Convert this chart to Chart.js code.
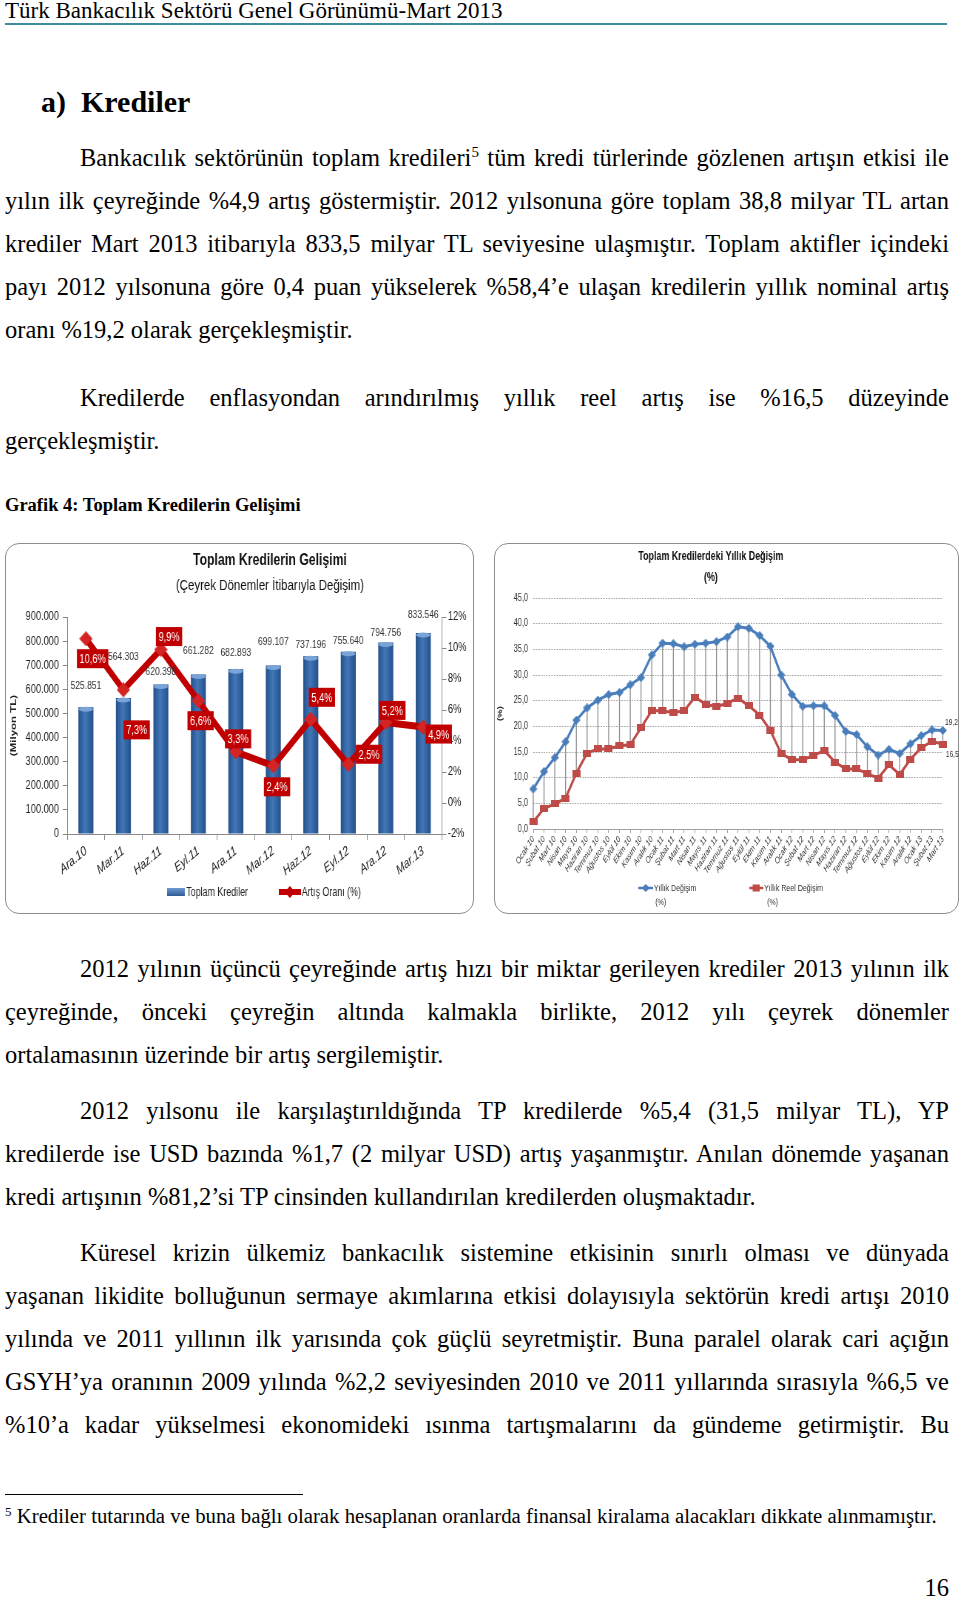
<!DOCTYPE html>
<html>
<head>
<meta charset="utf-8">
<script src="https://cdn.jsdelivr.net/npm/chart.js@4"></script>
<style>
  body{margin:0;background:#fff;width:960px;height:1599px;position:relative;overflow:hidden;
       font-family:"Liberation Serif","Times New Roman",serif;color:#000}
  .ln{position:absolute;white-space:nowrap;font-size:24.5px;line-height:30px;height:30px}
  .ln sup{font-size:15px;line-height:0;vertical-align:9px}
  .hdr{position:absolute;left:5px;top:-4px;font-size:23px;line-height:30px;white-space:nowrap}
  .rule{position:absolute;left:5px;top:23px;width:942px;height:2px;background:#3f8c9c}
  .box{position:absolute;border:1px solid #8e8e8e;border-radius:14px;box-sizing:border-box}
  .cv{position:absolute;transform:scaleX(0.74);transform-origin:0 0}
</style>
</head>
<body>
<div class="hdr">Türk Bankacılık Sektörü Genel Görünümü-Mart 2013</div>
<div class="rule"></div>
<div class="ln" style="left:41px;top:84px;font-size:30px;font-weight:bold;line-height:36px;height:36px">a)&nbsp; Krediler</div>

<div class="ln j" data-x="80" data-y="160"><span>Bankacılık sektörünün toplam kredileri<sup>5</sup> tüm kredi türlerinde gözlenen artışın etkisi ile</span></div>
<div class="ln j" data-x="5" data-y="203"><span>yılın ilk çeyreğinde %4,9 artış göstermiştir. 2012 yılsonuna göre toplam 38,8 milyar TL artan</span></div>
<div class="ln j" data-x="5" data-y="246"><span>krediler Mart 2013 itibarıyla 833,5 milyar TL seviyesine ulaşmıştır. Toplam aktifler içindeki</span></div>
<div class="ln j" data-x="5" data-y="289"><span>payı 2012 yılsonuna göre 0,4 puan yükselerek %58,4’e ulaşan kredilerin yıllık nominal artış</span></div>
<div class="ln" data-x="5" data-y="332"><span>oranı %19,2 olarak gerçekleşmiştir.</span></div>
<div class="ln j" data-x="80" data-y="400"><span>Kredilerde enflasyondan arındırılmış yıllık reel artış ise %16,5 düzeyinde</span></div>
<div class="ln" data-x="5" data-y="443"><span>gerçekleşmiştir.</span></div>
<div class="ln" style="left:5px;top:490px;font-size:18.5px;font-weight:bold">Grafik 4: Toplam Kredilerin Gelişimi</div>

<div class="box" style="left:5px;top:543px;width:469px;height:371px"></div>
<div class="cv" style="left:5px;top:543px;width:634px;height:371px"><canvas id="leftChart"></canvas></div>
<div class="box" style="left:494px;top:543px;width:465px;height:371px"></div>
<div class="cv" style="left:494px;top:543px;width:628px;height:371px"><canvas id="rightChart"></canvas></div>

<div class="ln j" data-x="80" data-y="971"><span>2012 yılının üçüncü çeyreğinde artış hızı bir miktar gerileyen krediler 2013 yılının ilk</span></div>
<div class="ln j" data-x="5" data-y="1014"><span>çeyreğinde, önceki çeyreğin altında kalmakla birlikte, 2012 yılı çeyrek dönemler</span></div>
<div class="ln" data-x="5" data-y="1057"><span>ortalamasının üzerinde bir artış sergilemiştir.</span></div>
<div class="ln j" data-x="80" data-y="1113"><span>2012 yılsonu ile karşılaştırıldığında TP kredilerde %5,4 (31,5 milyar TL), YP</span></div>
<div class="ln j" data-x="5" data-y="1156"><span>kredilerde ise USD bazında %1,7 (2 milyar USD) artış yaşanmıştır. Anılan dönemde yaşanan</span></div>
<div class="ln" data-x="5" data-y="1199"><span>kredi artışının %81,2’si TP cinsinden kullandırılan kredilerden oluşmaktadır.</span></div>
<div class="ln j" data-x="80" data-y="1255"><span>Küresel krizin ülkemiz bankacılık sistemine etkisinin sınırlı olması ve dünyada</span></div>
<div class="ln j" data-x="5" data-y="1298"><span>yaşanan likidite bolluğunun sermaye akımlarına etkisi dolayısıyla sektörün kredi artışı 2010</span></div>
<div class="ln j" data-x="5" data-y="1341"><span>yılında ve 2011 yıllının ilk yarısında çok güçlü seyretmiştir. Buna paralel olarak cari açığın</span></div>
<div class="ln j" data-x="5" data-y="1384"><span>GSYH’ya oranının 2009 yılında %2,2 seviyesinden 2010 ve 2011 yıllarında sırasıyla %6,5 ve</span></div>
<div class="ln j" data-x="5" data-y="1427"><span>%10’a kadar yükselmesi ekonomideki ısınma tartışmalarını da gündeme getirmiştir. Bu</span></div>

<div style="position:absolute;left:5px;top:1494px;width:298px;height:1px;background:#000"></div>
<div class="ln" style="left:5px;top:1503px;font-size:20.8px;line-height:26px"><sup style="font-size:13px;vertical-align:7px">5</sup> Krediler tutarında ve buna bağlı olarak hesaplanan oranlarda finansal kiralama alacakları dikkate alınmamıştır.</div>
<div class="ln" style="right:11px;top:1573px">16</div>

<script>
// ---------- data ----------
const quarters = ["Ara.10","Mar.11","Haz.11","Eyl.11","Ara.11","Mar.12","Haz.12","Eyl.12","Ara.12","Mar.13"];
const totalLoans = [525851, 564303, 620398, 661282, 682893, 699107, 737196, 755640, 794756, 833546];
const growthRate = [10.6, 7.3, 9.9, 6.6, 3.3, 2.4, 5.4, 2.5, 5.2, 4.9];
const loanTicks = [0, 100000, 200000, 300000, 400000, 500000, 600000, 700000, 800000, 900000];

const months = ["Ocak 10","Şubat 10","Mart 10","Nisan 10","Mayıs 10","Haziran 10","Temmuz 10","Ağustos 10","Eylül 10","Ekim 10","Kasım 10","Aralık 10",
  "Ocak 11","Şubat 11","Mart 11","Nisan 11","Mayıs 11","Haziran 11","Temmuz 11","Ağustos 11","Eylül 11","Ekim 11","Kasım 11","Aralık 11",
  "Ocak 12","Şubat 12","Mart 12","Nisan 12","Mayıs 12","Haziran 12","Temmuz 12","Ağustos 12","Eylül 12","Ekim 12","Kasım 12","Aralık 12",
  "Ocak 13","Şubat 13","Mart 13"];
const nominalChange = [7.8, 11.2, 13.9, 17.0, 21.2, 23.6, 25.1, 26.2, 26.6, 28.1, 29.5, 33.9,
  36.2, 36.1, 35.5, 36.0, 36.2, 36.5, 37.4, 39.4, 39.1, 37.7, 35.6, 30.0,
  26.2, 23.9, 24.0, 24.0, 22.1, 19.0, 18.4, 16.0, 14.4, 15.5, 14.7, 16.6,
  18.2, 19.3, 19.2];
const realChange = [1.4, 4.0, 4.9, 6.0, 10.9, 14.8, 15.6, 15.6, 16.2, 16.4, 19.7, 23.1,
  23.0, 22.7, 23.0, 25.7, 24.3, 23.8, 24.5, 25.5, 24.0, 22.2, 19.2, 14.7,
  13.5, 13.5, 14.3, 15.3, 13.0, 11.7, 11.7, 10.8, 9.9, 12.5, 10.6, 13.6,
  15.8, 17.1, 16.5];

// label placement (canvas px, before the horizontal squeeze)
const loanLabelLift = [21, 41, 13, 24, 17, 24, 11, 11, 10, 18];
const rateLabelShift = [[9,20],[18,40],[11,-13],[3,20],[3,-13],[5,21],[15,-22],[28,-10],[9,-12],[21,7]];

const SQ = 0.74; // the charts are drawn wider and squeezed like the original picture

// ---------- page text ----------
document.querySelectorAll(".ln[data-y]").forEach(el=>{
  el.style.left = el.dataset.x + "px";
  el.style.top = (el.dataset.y - 17.5) + "px";
  if(el.classList.contains("j")){
    const span = el.firstElementChild;
    const target = 949 - Number(el.dataset.x);
    const nat = span.getBoundingClientRect().width;
    const n = (span.textContent.match(/ /g) || []).length;
    if(n) span.style.wordSpacing = ((target - nat) / n) + "px";
  }
});

const SANS = '"Liberation Sans",Arial,sans-serif';
Chart.defaults.font.family = SANS;
Chart.defaults.color = "#222";
Chart.defaults.animation = false;

function dots(v){ return v === 0 ? "0" : String(v).replace(/\B(?=(\d{3})+(?!\d))/g, "."); }
function comma(v){ return String(v).replace(".", ","); }

// point marker drawn wider so it looks right after the squeeze
function marker(kind, w, h, color){
  const c = document.createElement("canvas");
  c.width = Math.ceil(w / SQ); c.height = h;
  const x = c.getContext("2d");
  x.fillStyle = color;
  if(kind === "diamond"){
    x.beginPath(); x.moveTo(c.width/2, 0); x.lineTo(c.width, h/2); x.lineTo(c.width/2, h); x.lineTo(0, h/2); x.closePath(); x.fill();
  } else {
    x.fillRect(0, 0, c.width, h);
  }
  return c;
}

// ---------- left chart ----------
const leftDecor = {
  id: "leftDecor",
  afterDatasetDraw(chart, args){
    if(args.index !== 0) return;
    const ctx = chart.ctx;
    ctx.save();
    args.meta.data.forEach(bar=>{
      ctx.fillStyle = "#7aa3d8";
      ctx.beginPath();
      ctx.ellipse(bar.x, bar.y + 2, bar.width/2 - 0.5, 2.5, 0, 0, Math.PI*2);
      ctx.fill();
    });
    ctx.restore();
  },
  afterDatasetsDraw(chart){
    const ctx = chart.ctx;
    ctx.save();
    ctx.font = "11.5px " + SANS;
    ctx.fillStyle = "#333";
    ctx.textAlign = "center";
    ctx.textBaseline = "middle";
    chart.getDatasetMeta(0).data.forEach((bar,i)=>{
      ctx.fillText(dots(totalLoans[i]), bar.x, bar.y - loanLabelLift[i]);
    });
    ctx.font = "12.5px " + SANS;
    chart.getDatasetMeta(1).data.forEach((pt,i)=>{
      const txt = comma(growthRate[i].toFixed(1)) + "%";
      const w = ctx.measureText(txt).width + 7, h = 19;
      const cx = pt.x + rateLabelShift[i][0], cy = pt.y + rateLabelShift[i][1];
      ctx.fillStyle = "#c00000";
      ctx.fillRect(cx - w/2, cy - h/2, w, h);
      ctx.fillStyle = "#fff";
      ctx.fillText(txt, cx, cy + 1);
    });
    ctx.restore();
  },
  afterDraw(chart){
    const ctx = chart.ctx;
    ctx.save();
    ctx.fillStyle = "#111";
    ctx.textAlign = "center";
    ctx.textBaseline = "middle";
    ctx.font = "bold 16.5px " + SANS;
    ctx.fillText("Toplam Kredilerin Gelişimi", 358, 17);
    ctx.font = "15.5px " + SANS;
    ctx.fillText("(Çeyrek Dönemler İtibarıyla Değişim)", 358, 43);
    // legend
    const g = ctx.createLinearGradient(0, 345, 0, 353);
    g.addColorStop(0, "#6f98d0"); g.addColorStop(1, "#2d5c99");
    ctx.fillStyle = g;
    ctx.fillRect(219, 345, 24, 8);
    ctx.fillStyle = "#c00000";
    ctx.fillRect(370, 346, 30, 6);
    ctx.beginPath(); ctx.moveTo(385, 343); ctx.lineTo(392, 349); ctx.lineTo(385, 355); ctx.lineTo(378, 349); ctx.closePath(); ctx.fill();
    ctx.fillStyle = "#222";
    ctx.textAlign = "left";
    ctx.font = "12px " + SANS;
    ctx.fillText("Toplam Krediler", 245, 350);
    ctx.fillText("Artış Oranı (%)", 401, 350);
    ctx.restore();
  }
};

new Chart(document.getElementById("leftChart"), {
  data: {
    labels: quarters,
    datasets: [
      { type: "bar", label: "Toplam Krediler", data: totalLoans, yAxisID: "y", order: 2,
        categoryPercentage: 1, barPercentage: 0.4,
        backgroundColor(c){
          const ch = c.chart, a = ch.chartArea;
          if(!a) return "#2f5f9f";
          const x = ch.scales.x.getPixelForValue(c.dataIndex);
          const w = (a.right - a.left) / quarters.length * 0.4;
          const g = ch.ctx.createLinearGradient(x - w/2, 0, x + w/2, 0);
          g.addColorStop(0, "#23508a"); g.addColorStop(0.45, "#4377b8"); g.addColorStop(1, "#23508a");
          return g;
        } },
      { type: "line", label: "Artış Oranı (%)", data: growthRate, yAxisID: "y1", order: 1,
        borderColor: "#c00000", borderWidth: 7, tension: 0,
        pointStyle: marker("diamond", 13, 15, "#d42424"), pointRadius: 7 }
    ]
  },
  options: {
    responsive: true, maintainAspectRatio: false,
    layout: { padding: { top: 74, left: 5, right: 0, bottom: 0 } },
    plugins: { legend: { display: false }, tooltip: { enabled: false } },
    scales: {
      x: {
        grid: { drawOnChartArea: false, offset: true, tickLength: 6, color: "#8a8a8a" },
        border: { color: "#8a8a8a" },
        ticks: { minRotation: 32, maxRotation: 32, font: { size: 13.5, style: "italic" }, color: "#222", padding: 3 },
        afterFit(s){ s.height = 80; }
      },
      y: {
        min: 0, max: 900000,
        afterBuildTicks(s){ s.ticks = loanTicks.map(v=>({ value: v })); },
        ticks: { callback: v => dots(v), font: { size: 12.5 }, color: "#222", padding: 5 },
        grid: { drawOnChartArea: false, tickLength: 6, color: "#8a8a8a" },
        border: { color: "#8a8a8a" },
        title: { display: true, text: "(Milyon TL)", font: { size: 11.5, weight: "bold" }, color: "#222", padding: { top: 0, bottom: 0 } },
        afterFit(s){ s.width = 79; }
      },
      y1: {
        position: "right", min: -2, max: 12,
        ticks: { stepSize: 2, callback: v => v + "%", font: { size: 12.5 }, color: "#222", padding: 2 },
        grid: { drawOnChartArea: false, tickLength: 6, color: "#8a8a8a" },
        border: { color: "#8a8a8a" },
        afterFit(s){ s.width = 43.5; }
      }
    }
  },
  plugins: [leftDecor]
});

// ---------- right chart ----------
const rightDecor = {
  id: "rightDecor",
  beforeDatasetsDraw(chart){
    const a = chart.getDatasetMeta(0).data, b = chart.getDatasetMeta(1).data;
    const ctx = chart.ctx;
    ctx.save();
    ctx.strokeStyle = "#8c8c8c";
    ctx.lineWidth = 1.3;
    a.forEach((p,i)=>{
      ctx.beginPath();
      ctx.moveTo(p.x, p.y);
      ctx.lineTo(p.x, b[i].y);
      ctx.stroke();
    });
    ctx.restore();
  },
  afterDraw(chart){
    const ctx = chart.ctx;
    ctx.save();
    ctx.fillStyle = "#111";
    ctx.textAlign = "center";
    ctx.textBaseline = "middle";
    ctx.font = "bold 12px " + SANS;
    ctx.fillText("Toplam Kredilerdeki Yıllık Değişim", 293, 14);
    ctx.fillText("(%)", 293, 35);
    const n = nominalChange.length - 1;
    const pa = chart.getDatasetMeta(0).data[n], pb = chart.getDatasetMeta(1).data[n];
    ctx.font = "9px " + SANS;
    ctx.fillStyle = "#333";
    ctx.textAlign = "left";
    ctx.fillText(comma(nominalChange[n].toFixed(1)), pa.x + 3, pa.y - 8);
    ctx.fillText(comma(realChange[n].toFixed(1)), pb.x + 4, pb.y + 10);
    // legend
    ctx.lineWidth = 2.5;
    ctx.strokeStyle = "#4a7ebb"; ctx.fillStyle = "#4a7ebb";
    ctx.beginPath(); ctx.moveTo(195, 345); ctx.lineTo(215, 345); ctx.stroke();
    ctx.beginPath(); ctx.moveTo(205, 341); ctx.lineTo(210.5, 345); ctx.lineTo(205, 349); ctx.lineTo(199.5, 345); ctx.closePath(); ctx.fill();
    ctx.strokeStyle = "#be4b48"; ctx.fillStyle = "#be4b48";
    ctx.beginPath(); ctx.moveTo(345, 345); ctx.lineTo(364, 345); ctx.stroke();
    ctx.fillRect(349.5, 341.5, 9.5, 7);
    ctx.fillStyle = "#333";
    ctx.font = "9.5px " + SANS;
    ctx.fillText("Yıllık Değişim", 216, 345);
    ctx.fillText("(%)", 218, 359);
    ctx.fillText("Yıllık Reel Değişim", 365, 345);
    ctx.fillText("(%)", 369, 359);
    ctx.restore();
  }
};

new Chart(document.getElementById("rightChart"), {
  type: "line",
  data: {
    labels: months,
    datasets: [
      { label: "Yıllık Değişim (%)", data: nominalChange, borderColor: "#4a7ebb", backgroundColor: "#4a7ebb",
        borderWidth: 3, tension: 0, pointStyle: marker("diamond", 8, 9, "#4a7ebb"), pointRadius: 4 },
      { label: "Yıllık Reel Değişim (%)", data: realChange, borderColor: "#be4b48", backgroundColor: "#be4b48",
        borderWidth: 3, tension: 0, pointStyle: marker("rect", 7.5, 7.5, "#be4b48"), pointRadius: 4 }
    ]
  },
  options: {
    responsive: true, maintainAspectRatio: false,
    layout: { padding: { top: 55, left: 3, right: 21.5, bottom: 0 } },
    plugins: { legend: { display: false }, tooltip: { enabled: false } },
    scales: {
      x: {
        offset: false,
        grid: { drawOnChartArea: false, tickLength: 4, color: "#a0a0a0" },
        border: { color: "#a0a0a0" },
        ticks: { autoSkip: false, minRotation: 50, maxRotation: 50, font: { size: 9, style: "italic" }, color: "#333", padding: 1 },
        afterFit(s){ s.height = 85; }
      },
      y: {
        min: 0, max: 45,
        ticks: { stepSize: 5, callback: v => comma(v.toFixed(1)), font: { size: 10 }, color: "#333", padding: 7 },
        grid: { drawTicks: false, color: "#a8a8a8", lineWidth: 1 },
        border: { display: false, dash: [2, 1.5] },
        title: { display: true, text: "(%)", font: { size: 9.5, weight: "bold" }, color: "#222", padding: { top: 0, bottom: 0 } },
        afterFit(s){ s.width = 50; }
      }
    }
  },
  plugins: [rightDecor]
});
</script>
</body>
</html>
